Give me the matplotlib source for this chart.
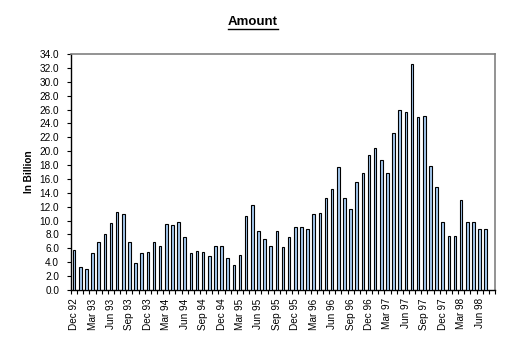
import matplotlib
matplotlib.use("Agg")
import matplotlib.pyplot as plt
import numpy as np

plt.rcParams['font.family'] = ['Liberation Sans', 'DejaVu Sans']

# Monthly amounts, Dec 92 .. Jul 98 (in billion)
MONTHS = ["Dec 92",
          "Jan 93", "Feb 93", "Mar 93", "Apr 93", "May 93", "Jun 93",
          "Jul 93", "Aug 93", "Sep 93", "Oct 93", "Nov 93", "Dec 93",
          "Jan 94", "Feb 94", "Mar 94", "Apr 94", "May 94", "Jun 94",
          "Jul 94", "Aug 94", "Sep 94", "Oct 94", "Nov 94", "Dec 94",
          "Jan 95", "Feb 95", "Mar 95", "Apr 95", "May 95", "Jun 95",
          "Jul 95", "Aug 95", "Sep 95", "Oct 95", "Nov 95", "Dec 95",
          "Jan 96", "Feb 96", "Mar 96", "Apr 96", "May 96", "Jun 96",
          "Jul 96", "Aug 96", "Sep 96", "Oct 96", "Nov 96", "Dec 96",
          "Jan 97", "Feb 97", "Mar 97", "Apr 97", "May 97", "Jun 97",
          "Jul 97", "Aug 97", "Sep 97", "Oct 97", "Nov 97", "Dec 97",
          "Jan 98", "Feb 98", "Mar 98", "Apr 98", "May 98", "Jun 98",
          "Jul 98"]
AMOUNT = [5.8,
          3.3, 3.0, 5.4, 6.9, 8.0, 9.6, 11.3, 10.9, 6.9, 3.9, 5.4, 5.5,
          6.9, 6.4, 9.5, 9.3, 9.8, 7.6, 5.3, 5.6, 5.5, 4.9, 6.4, 6.4,
          4.6, 3.6, 5.1, 10.6, 12.3, 8.5, 7.4, 6.4, 8.5, 6.2, 7.7, 9.1,
          9.1, 8.8, 11.0, 11.1, 13.2, 14.6, 17.7, 13.3, 11.6, 15.5, 16.8, 19.5,
          20.5, 18.7, 16.8, 22.6, 26.0, 25.6, 32.5, 24.9, 25.0, 17.9, 14.9, 9.8,
          7.8, 7.8, 12.9, 9.8, 9.8, 8.8, 8.8]
LABEL_EVERY = 3

W, H = 509, 350
fig = plt.figure(figsize=(W / 100, H / 100), dpi=100)
ax = fig.add_axes([71 / W, 1 - 290 / H, (495 - 71) / W, (290 - 54) / H])

x = np.arange(len(AMOUNT))
ax.bar(x, AMOUNT, width=0.42, color="#A6CAF0", edgecolor="black", linewidth=0.8, zorder=3)

# one spare empty slot at the right, as in the original
ax.set_xlim(-0.5, len(AMOUNT) + 0.5)
ax.set_ylim(0, 34)
yt = np.arange(0, 34.1, 2)
ax.set_yticks(yt)
ax.set_yticklabels([f"{v:.1f}" for v in yt], fontsize=7.2)

ax.set_xticks(np.arange(-0.5, len(AMOUNT) + 1, 1), minor=True)
ax.set_xticks(x[::LABEL_EVERY])
ax.set_xticklabels(MONTHS[::LABEL_EVERY], rotation=90, fontsize=7.2)
ax.tick_params(axis="x", which="major", length=0, pad=6)
ax.tick_params(axis="x", which="minor", length=3, width=0.8, direction="out", color="black")
ax.tick_params(axis="y", length=3, width=0.8, direction="out", pad=5.5)

for side in ("top", "right"):
    ax.spines[side].set_color("#808080")
    ax.spines[side].set_linewidth(1.2)
for side in ("left", "bottom"):
    ax.spines[side].set_color("black")
    ax.spines[side].set_linewidth(1.0)

ax.set_ylabel("In Billion", fontsize=7.2, fontweight="bold", labelpad=4)

t = fig.text(253 / W, 1 - 22 / H, "Amount", ha="center", va="center",
             fontsize=9.5, fontweight="bold")
# underline the title
fig.canvas.draw()
bb = t.get_window_extent()
uy = (bb.y0 - 1) / H
fig.add_artist(plt.Line2D([bb.x0 / W, bb.x1 / W], [uy, uy],
                          transform=fig.transFigure, color="black", linewidth=1.0))

fig.savefig("out.png", dpi=100)
